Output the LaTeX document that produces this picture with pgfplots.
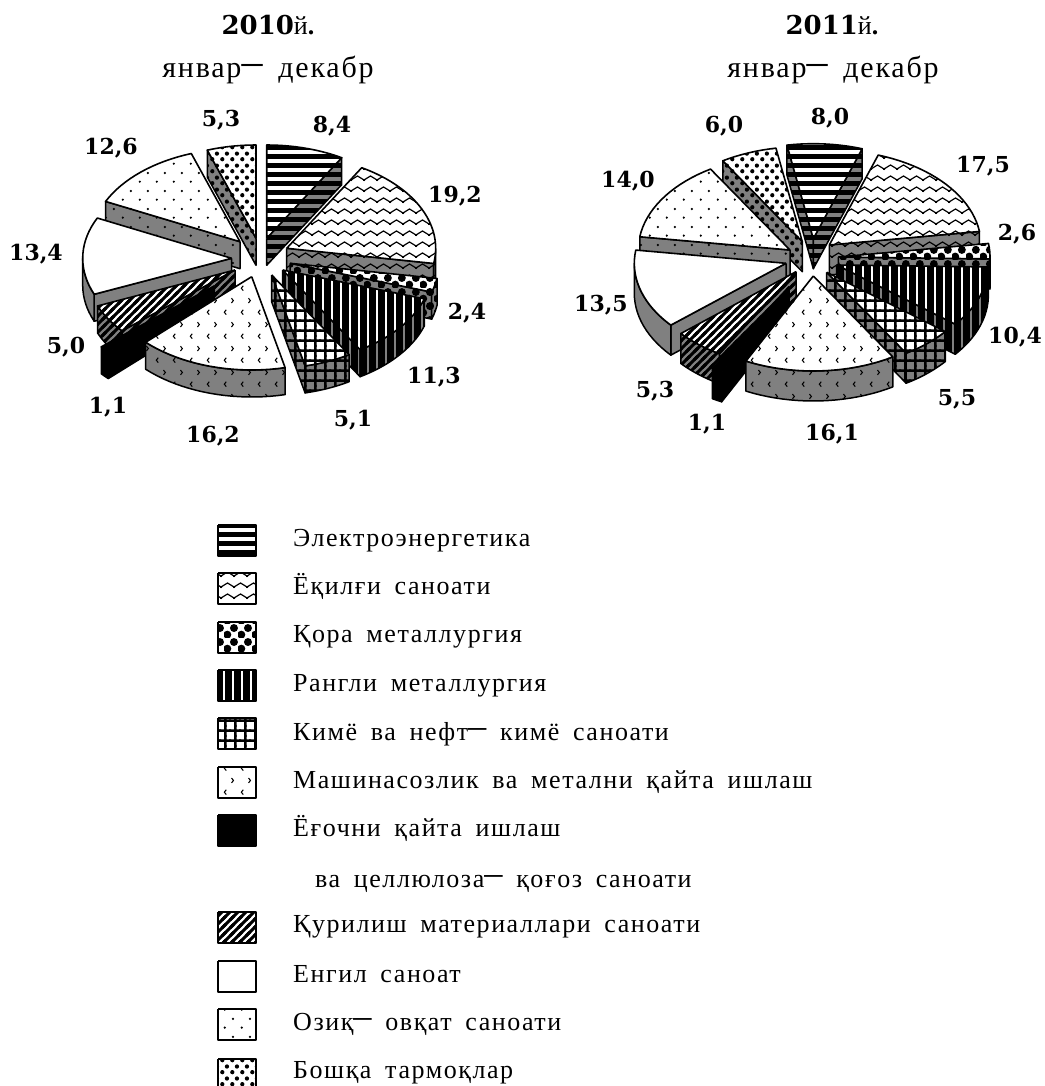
\documentclass[border=0pt]{standalone}
\usepackage{fontspec}
\usepackage{pgfplots}
\pgfplotsset{compat=1.18}
\usetikzlibrary{patterns}
\setmainfont[LetterSpace=6,WordSpace=1.7]{Liberation Serif}
\newfontfamily\numfont{DejaVu Serif}

% hatchings, 1pt = 1px of the reference
\pgfdeclarepatternformonly{hl}{\pgfqpoint{-1pt}{-1pt}}{\pgfqpoint{10pt}{10pt}}{\pgfqpoint{9pt}{9pt}}{%
  \pgfpathrectangle{\pgfqpoint{-1pt}{0pt}}{\pgfqpoint{11pt}{4.5pt}}\pgfusepath{fill}}
\pgfdeclarepatternformonly{vl}{\pgfqpoint{-1pt}{-1pt}}{\pgfqpoint{10pt}{10pt}}{\pgfqpoint{9pt}{9pt}}{%
  \pgfpathrectangle{\pgfqpoint{0pt}{-1pt}}{\pgfqpoint{6.5pt}{11pt}}\pgfusepath{fill}}
\pgfdeclarepatternformonly{wave}{\pgfqpoint{-1pt}{0pt}}{\pgfqpoint{14pt}{11pt}}{\pgfqpoint{13pt}{11pt}}{%
  \pgfsetlinewidth{1.2pt}\pgfsetstrokecolor{black}
  \pgfpathmoveto{\pgfqpoint{-1pt}{3.4pt}}\pgfpathlineto{\pgfqpoint{0pt}{4pt}}
  \pgfpathlineto{\pgfqpoint{6.5pt}{8pt}}\pgfpathlineto{\pgfqpoint{13pt}{4pt}}
  \pgfpathlineto{\pgfqpoint{14pt}{3.4pt}}\pgfusepath{stroke}}
\pgfdeclarepatternformonly{balls}{\pgfpointorigin}{\pgfqpoint{14pt}{14pt}}{\pgfqpoint{14pt}{14pt}}{%
  \pgfpathcircle{\pgfqpoint{3.5pt}{3.5pt}}{4.2pt}\pgfpathcircle{\pgfqpoint{10.5pt}{10.5pt}}{4.2pt}\pgfusepath{fill}}
\pgfdeclarepatternformonly{mesh}{\pgfqpoint{-1pt}{-1pt}}{\pgfqpoint{11pt}{11pt}}{\pgfqpoint{10pt}{10pt}}{%
  \pgfpathrectangle{\pgfqpoint{4pt}{-1pt}}{\pgfqpoint{2.6pt}{12pt}}
  \pgfpathrectangle{\pgfqpoint{-1pt}{4pt}}{\pgfqpoint{12pt}{2.6pt}}\pgfusepath{fill}}
\pgfdeclarepatternformonly{chev}{\pgfpointorigin}{\pgfqpoint{17pt}{24pt}}{\pgfqpoint{17pt}{24pt}}{%
  \pgfsetlinewidth{1.1pt}
  \pgfpathmoveto{\pgfqpoint{5.5pt}{8.5pt}}\pgfpathlineto{\pgfqpoint{3.5pt}{6pt}}\pgfpathlineto{\pgfqpoint{5.5pt}{3.5pt}}
  \pgfpathmoveto{\pgfqpoint{11pt}{20.5pt}}\pgfpathlineto{\pgfqpoint{13pt}{18pt}}\pgfpathlineto{\pgfqpoint{11pt}{15.5pt}}
  \pgfusepath{stroke}}
\pgfdeclarepatternformonly{diag}{\pgfqpoint{-1pt}{-1pt}}{\pgfqpoint{9pt}{9pt}}{\pgfqpoint{8pt}{8pt}}{%
  \pgfsetlinewidth{3pt}
  \pgfpathmoveto{\pgfqpoint{-2pt}{-2pt}}\pgfpathlineto{\pgfqpoint{10pt}{10pt}}
  \pgfpathmoveto{\pgfqpoint{6pt}{-2pt}}\pgfpathlineto{\pgfqpoint{10pt}{2pt}}
  \pgfpathmoveto{\pgfqpoint{-2pt}{6pt}}\pgfpathlineto{\pgfqpoint{2pt}{10pt}}
  \pgfusepath{stroke}}
\pgfdeclarepatternformonly{spots}{\pgfpointorigin}{\pgfqpoint{17pt}{18pt}}{\pgfqpoint{17pt}{18pt}}{%
  \pgfpathcircle{\pgfqpoint{4pt}{4.5pt}}{1.3pt}\pgfpathcircle{\pgfqpoint{12.5pt}{13.5pt}}{1.3pt}\pgfusepath{fill}}
\pgfdeclarepatternformonly{dense}{\pgfpointorigin}{\pgfqpoint{10pt}{12pt}}{\pgfqpoint{10pt}{12pt}}{%
  \pgfpathcircle{\pgfqpoint{2.5pt}{3pt}}{2.3pt}\pgfpathcircle{\pgfqpoint{7.5pt}{9pt}}{2.3pt}\pgfusepath{fill}}

\newcommand{\poly}[1]{\edef\tmp{\noexpand\addplot[#1] coordinates {\pts};}\tmp}
\newcommand{\face}[3]{\poly{fill=#1,draw=none}\poly{draw=none,#2}\poly{black,line join=round,line width=#3}}
\newcommand{\arcpts}[3]{%
  \pgfmathtruncatemacro\n{max(ceil(abs((#1)-(#2))/3),1)}%
  \foreach \i in {0,...,\n}{%
    \pgfmathsetmacro\a{(#1)+((#2)-(#1))*\i/\n}%
    \pgfmathsetmacro\x{\tx+\RX*cos(\a)}%
    \pgfmathsetmacro\y{\ty+#3-\RY*sin(\a)}%
    \xdef\pts{\pts (\x,\y)}}}
% radial cut of a slice at angle #1
\newcommand{\cutwall}[2]{%
  \pgfmathsetmacro\x{\tx+\RX*cos(#1)}%
  \pgfmathsetmacro\y{\ty-\RY*sin(#1)}%
  \pgfmathsetmacro\yy{\y+\D}%
  \pgfmathsetmacro\tyy{\ty+\D}%
  \xdef\pts{(\tx,\ty) (\x,\y) (\x,\yy) (\tx,\tyy) (\tx,\ty)}%
  \face{gray}{#2}{1.5pt}}
% tip x, tip y, percent before this slice, percent of this slice, hatching
\newcommand{\slice}[5]{%
  \def\tx{#1}\def\ty{#2}%
  \pgfmathsetmacro\aA{\start-3.6*#3}%
  \pgfmathsetmacro\aB{\start-3.6*(#3+#4)}%
  \pgfmathtruncatemacro\vis{cos(\aA)<-0.01}%
  \ifnum\vis=1 \cutwall{\aA}{#5}\fi
  \pgfmathtruncatemacro\vis{cos(\aB)>0.01}%
  \ifnum\vis=1 \cutwall{\aB}{#5}\fi
  \pgfmathsetmacro\vA{min(\aA,0)}%
  \pgfmathsetmacro\vB{max(\aB,-180)}%
  \pgfmathtruncatemacro\vis{\vA>\vB}%
  \ifnum\vis=1
    \xdef\pts{}\arcpts{\vA}{\vB}{0}\arcpts{\vB}{\vA}{\D}%
    \pgfmathsetmacro\x{\tx+\RX*cos(\vA)}\pgfmathsetmacro\y{\ty-\RY*sin(\vA)}%
    \xdef\pts{\pts (\x,\y)}%
    \face{gray}{#5}{1.5pt}%
  \fi
  \xdef\pts{(\tx,\ty)}\arcpts{\aA}{\aB}{0}\xdef\pts{\pts (\tx,\ty)}%
  \face{white}{#5}{1.6pt}}
\newcommand{\swatch}[2]{%
  \pgfmathsetmacro\ye{#1+31}%
  \xdef\pts{(218,#1) (256,#1) (256,\ye) (218,\ye) (218,#1)}%
  \face{white}{#2}{2.2pt}}
\newcommand{\num}[3]{\node[anchor=base,inner sep=0pt,font=\numfont\bfseries\fontsize{22}{26}\selectfont] at (axis cs:#1,#2) {#3};}
\newcommand{\leg}[3]{\node[anchor=base west,inner sep=0pt,font=\fontsize{26}{30}\selectfont] at (axis cs:#1,#2) {#3};}
\newcommand{\ds}{\raisebox{.17em}{\scalebox{1.4}[1]{\bfseries –}}}

\begin{document}
\begin{tikzpicture}
\begin{axis}[
    scale only axis, width=1044pt, height=1086pt,
    xmin=0, xmax=1044, ymin=0, ymax=1086,
    y dir=reverse, hide axis, clip=true,
  ]
\path (axis cs:0,0) rectangle (axis cs:1044,1086);
\addplot[draw=none] coordinates {(0,0) (1044,1086)};
% 2010
\def\start{90}\def\RX{149}\def\RY{93.3}\def\D{27}
\slice{266.7}{238.3}{0}{8.4}{pattern=hl}
\slice{256}{238.3}{94.7}{5.3}{pattern=dense}
\slice{240}{241.7}{82.1}{12.6}{pattern=spots}
\slice{286.7}{248.3}{8.4}{19.2}{pattern=wave}
\slice{290}{263.3}{27.6}{2.4}{pattern=balls}
\slice{282.7}{270}{30}{11.3}{pattern=vl}
\slice{231.7}{258.3}{68.7}{13.4}{draw=none}
\slice{235}{270}{63.7}{5.0}{pattern=diag}
\slice{214.3}{286}{62.6}{1.1}{fill=black}
\slice{271.7}{275}{41.3}{5.1}{pattern=mesh}
\slice{251.7}{276.7}{46.4}{16.2}{pattern=chev}
% 2011
\def\start{100}\def\RX{151.7}\def\RY{95}\def\D{30}
\slice{813.3}{238.7}{0}{8.0}{pattern=hl}
\slice{802.3}{241.7}{94}{6.0}{pattern=dense}
\slice{829.3}{245}{8}{17.5}{pattern=wave}
\slice{790}{250}{80}{14.0}{pattern=spots}
\slice{838.3}{257}{25.5}{2.6}{pattern=balls}
\slice{836.7}{265}{28.1}{10.4}{pattern=vl}
\slice{786}{263.3}{66.5}{13.5}{draw=none}
\slice{796}{271.7}{61.2}{5.3}{pattern=diag}
\slice{789}{286.7}{60.1}{1.1}{fill=black}
\slice{826.7}{272.3}{38.5}{5.5}{pattern=mesh}
\slice{813.3}{276}{44}{16.1}{pattern=chev}
% legend
\swatch{525}{pattern=hl}
\swatch{573}{pattern=wave}
\swatch{622}{pattern=balls}
\swatch{670}{pattern=vl}
\swatch{718}{pattern=mesh}
\swatch{767}{pattern=chev}
\swatch{815}{fill=black}
\swatch{912}{pattern=diag}
\swatch{961}{draw=none}
\swatch{1009}{pattern=spots}
\swatch{1059}{pattern=dense}
% titles
\node[anchor=base,inner sep=0pt,font=\fontsize{26}{30}\selectfont] at (axis cs:268,35) {{\numfont\bfseries 2010}й{\bfseries .}};
\node[anchor=base,inner sep=0pt,font=\fontsize{30}{34}\selectfont] at (axis cs:268,78) {январ\ds{} декабр};
\node[anchor=base,inner sep=0pt,font=\fontsize{26}{30}\selectfont] at (axis cs:832,35) {{\numfont\bfseries 2011}й{\bfseries .}};
\node[anchor=base,inner sep=0pt,font=\fontsize{30}{34}\selectfont] at (axis cs:833,78) {январ\ds{} декабр};
% values
\num{332}{133}{8,4}
\num{455}{202}{19,2}
\num{467}{319}{2,4}
\num{434}{383}{11,3}
\num{353}{426}{5,1}
\num{213}{442}{16,2}
\num{108}{413}{1,1}
\num{66}{353}{5,0}
\num{36}{260}{13,4}
\num{111}{155}{12,6}
\num{221}{127}{5,3}
\num{830}{125}{8,0}
\num{983}{173}{17,5}
\num{1017}{240}{2,6}
\num{1015}{343}{10,4}
\num{957}{405}{5,5}
\num{832}{440}{16,1}
\num{707}{430}{1,1}
\num{655}{397}{5,3}
\num{601}{311}{13,5}
\num{628}{188}{14,0}
\num{724}{133}{6,0}
% legend text
\leg{293}{546}{Электроэнергетика}
\leg{293}{594}{Ёқилғи саноати}
\leg{293}{642}{Қора металлургия}
\leg{293}{691}{Рангли металлургия}
\leg{293}{740}{Кимё ва нефт\ds{} кимё саноати}
\leg{293}{788}{Машинасозлик ва метални қайта ишлаш}
\leg{293}{836}{Ёғочни қайта ишлаш}
\leg{315}{887}{ва целлюлоза\ds{} қоғоз саноати}
\leg{293}{932}{Қурилиш материаллари саноати}
\leg{293}{982}{Енгил саноат}
\leg{293}{1030}{Озиқ\ds{} овқат саноати}
\leg{293}{1078}{Бошқа тармоқлар}
\end{axis}
\end{tikzpicture}
\end{document}
